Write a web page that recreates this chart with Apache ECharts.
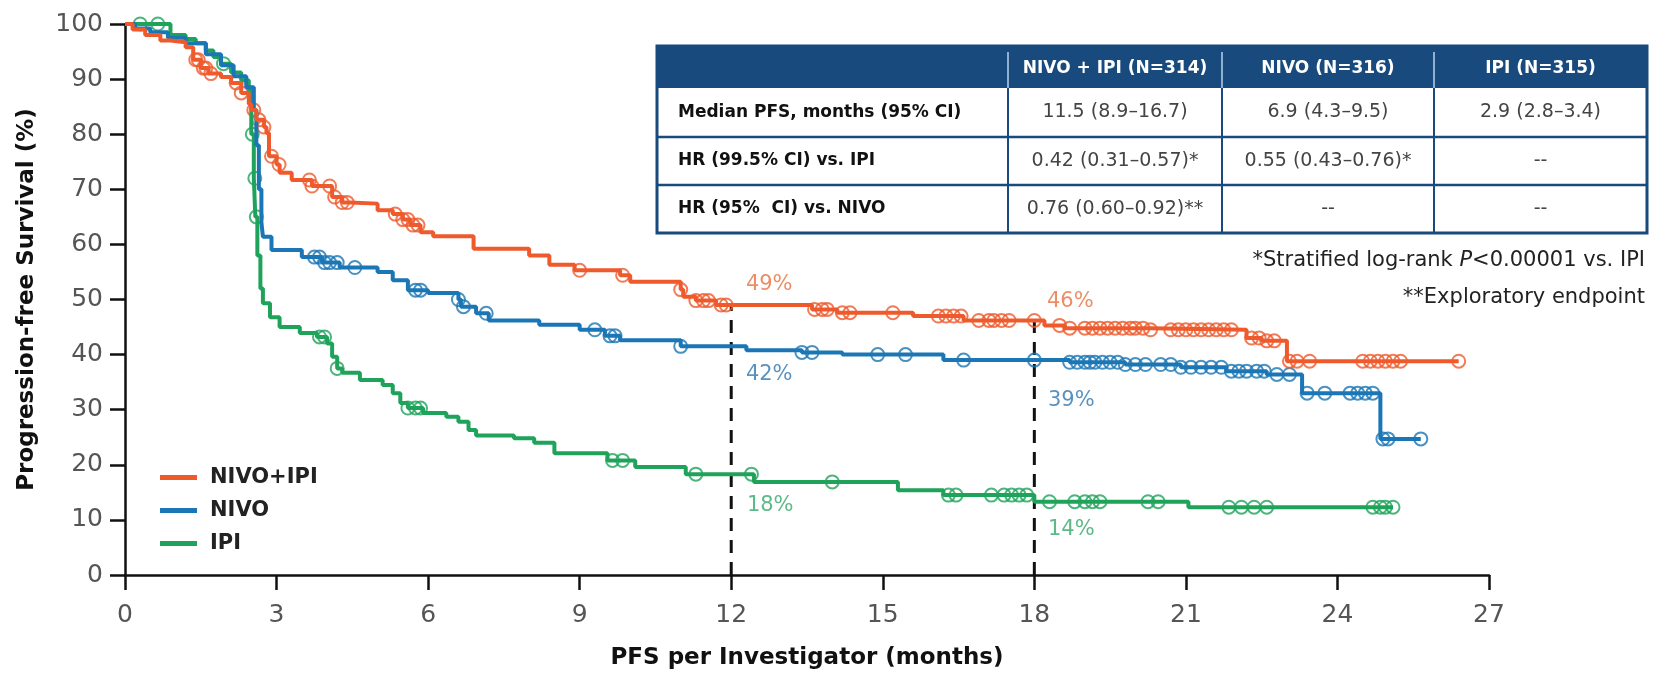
<!DOCTYPE html>
<html>
<head>
<meta charset="utf-8">
<script src="https://cdn.jsdelivr.net/npm/echarts@6/dist/echarts.min.js"></script>
<style>
  html, body { margin: 0; padding: 0; background: #fff; }
  #chart { width: 1653px; height: 673px; }
</style>
</head>
<body>
<div id="chart"></div>
<script>
// Kaplan-Meier step points (months, % progression-free)
const comboT = [0, 0.15, 0.4, 0.7, 0.9, 1.2, 1.35, 1.5, 1.65, 1.9, 2.1, 2.3, 2.45, 2.5, 2.6, 2.75, 2.8, 2.85, 3.0, 3.06, 3.3, 3.7, 4.1, 4.3, 4.45, 5.0, 5.3, 5.5, 5.65, 5.85, 6.1, 6.9, 8.0, 8.4, 8.9, 9.8, 10.0, 11.0, 11.05, 11.3, 11.7, 13.6, 14.1, 15.6, 16.6, 18.2, 18.6, 20.3, 22.2, 22.5, 23.0];
const comboS = [100, 99, 98, 97, 96.7, 95.8, 93.5, 92, 91, 90.4, 89.3, 87.5, 85.5, 84.4, 82.6, 81.3, 80.2, 76, 74.5, 73, 71.7, 70.6, 68.6, 67.6, 67.4, 66.2, 65.5, 64.5, 63.5, 62.2, 61.5, 59.2, 58, 56.3, 55.3, 54.4, 53.2, 51.8, 50.5, 49.8, 49.0, 48.2, 47.6, 47.0, 46.2, 45.3, 44.8, 44.5, 43.0, 42.5, 38.8];
const comboCens = [1.4, 1.45, 1.55, 1.6, 1.7, 2.2, 2.3, 2.55, 2.65, 2.75, 2.9, 3.05, 3.65, 3.7, 4.05, 4.15, 4.3, 4.4, 5.35, 5.5, 5.6, 5.7, 5.8, 9.0, 9.85, 11.0, 11.3, 11.45, 11.55, 11.8, 11.9, 13.65, 13.8, 13.9, 14.2, 14.35, 15.2, 16.1, 16.25, 16.4, 16.55, 16.9, 17.1, 17.2, 17.35, 17.5, 18.0, 18.5, 18.7, 19.0, 19.15, 19.3, 19.45, 19.6, 19.75, 19.9, 20.0, 20.15, 20.3, 20.7, 20.85, 21.0, 21.15, 21.3, 21.45, 21.6, 21.75, 21.9, 22.3, 22.45, 22.6, 22.75, 23.05, 23.2, 23.45, 24.5, 24.65, 24.8, 24.95, 25.1, 25.25, 26.4];

const nivoT = [0, 0.2, 0.5, 0.85, 1.2, 1.6, 1.9, 2.15, 2.4, 2.55, 2.6, 2.65, 2.7, 2.73, 2.9, 3.5, 3.9, 4.25, 5.0, 5.3, 5.6, 6.0, 6.6, 6.65, 6.95, 7.2, 8.2, 9.0, 9.5, 9.8, 11.0, 12.3, 13.4, 14.2, 16.2, 18.7, 19.8, 20.9, 21.8, 22.6, 23.3, 24.85];
const nivoS = [100, 99.2, 98.5, 97.5, 96.5, 94.5, 92.5, 90.5, 88.5, 84.4, 78, 70, 64, 61.4, 59, 57.7, 56.7, 55.8, 55, 53.5, 51.7, 51.2, 50, 48.7, 47.5, 46.2, 45.4, 44.5, 43.4, 42.6, 41.5, 40.8, 40.4, 40.0, 39.0, 38.6, 38.2, 37.7, 37.0, 36.4, 33.0, 24.7];
const nivoCens = [3.75, 3.85, 3.95, 4.05, 4.2, 4.55, 5.75, 5.85, 6.6, 6.7, 7.15, 9.3, 9.6, 9.7, 11.0, 13.4, 13.6, 14.9, 15.45, 16.6, 18.0, 18.7, 18.85, 19.0, 19.1, 19.2, 19.35, 19.5, 19.65, 19.8, 20.0, 20.2, 20.5, 20.7, 20.9, 21.1, 21.3, 21.5, 21.7, 21.9, 22.05, 22.2, 22.4, 22.55, 22.8, 23.05, 23.4, 23.75, 24.25, 24.4, 24.55, 24.7, 24.9, 25.0, 25.65];

const ipiT = [0, 0.9, 1.2, 1.4, 1.6, 1.75, 1.9, 2.1, 2.3, 2.45, 2.5, 2.55, 2.58, 2.62, 2.68, 2.73, 2.87, 3.06, 3.46, 3.8, 4.0, 4.1, 4.2, 4.3, 4.65, 5.1, 5.3, 5.45, 5.6, 5.9, 6.36, 6.6, 6.8, 6.95, 7.7, 8.1, 8.5, 9.55, 10.1, 11.1, 12.45, 15.3, 16.2, 18.0, 21.05];
const ipiS = [100, 98, 97.3, 96.5, 95.2, 94, 92.8, 91.2, 89.8, 88, 80, 72, 65, 58, 52, 49.3, 46.8, 45, 43.9, 43.2, 42, 39.6, 37.5, 36.7, 35.4, 34.5, 33, 31.2, 30.3, 29.4, 28.7, 27.8, 26.3, 25.3, 24.8, 24, 22.1, 20.8, 19.6, 18.3, 16.9, 15.4, 14.5, 13.3, 12.3];
const ipiCens = [0.3, 0.65, 1.95, 2.52, 2.57, 2.6, 3.85, 3.95, 4.2, 5.6, 5.75, 5.85, 9.65, 9.85, 11.3, 12.4, 14.0, 16.3, 16.45, 17.15, 17.4, 17.55, 17.7, 17.85, 18.3, 18.8, 19.0, 19.15, 19.3, 20.25, 20.45, 21.85, 22.1, 22.35, 22.6, 24.7, 24.85, 24.95, 25.1];

// landmark rates at 12 and 18 months
const landmarks = [12, 18];
const comboAt = [49, 46];
const nivoAt = [42, 39];
const ipiAt = [18, 14];

const tableHead = ['', 'NIVO + IPI (N=314)', 'NIVO (N=316)', 'IPI (N=315)'];
const tableRows = [
  ['Median PFS, months (95% CI)', '11.5 (8.9\u201316.7)', '6.9 (4.3\u20139.5)', '2.9 (2.8\u20133.4)'],
  ['HR (99.5% CI) vs. IPI', '0.42 (0.31\u20130.57)*', '0.55 (0.43\u20130.76)*', '--'],
  ['HR (95%  CI) vs. NIVO', '0.76 (0.60\u20130.92)**', '--', '--']
];
const footnote1 = ['*Stratified log-rank ', 'P', '<0.00001 vs. IPI'];
const footnote2 = '**Exploratory endpoint';

var ORANGE = '#EE5A2C', BLUE = '#1A76B4', GREEN = '#1FA35B', NAVY = '#184A7D';
var FONT = 'DejaVu Sans';

function stepData(t, s, tEnd) {
  var d = t.map(function (x, i) { return [x, s[i]]; });
  d.push([tEnd, s[s.length - 1]]);
  return d;
}
function valueAt(t, s, x) {
  var v = s[0];
  for (var i = 0; i < t.length; i++) if (t[i] <= x) v = s[i];
  return v;
}
function censData(t, s, cens) {
  return cens.map(function (x) { return [x, valueAt(t, s, x)]; });
}

function curve(name, color, t, s, cens) {
  return {
    name: name, type: 'line', step: 'end', symbol: 'none',
    data: stepData(t, s, cens[cens.length - 1]),
    lineStyle: { color: color, width: 4 }, itemStyle: { color: color }
  };
}
function marks(name, color, t, s, cens) {
  return {
    name: name + ' censored', type: 'scatter', symbol: 'circle', symbolSize: 13,
    data: censData(t, s, cens),
    itemStyle: { color: 'rgba(0,0,0,0)', borderColor: color, borderWidth: 2 }
  };
}
function rates(name, color, vals, offs) {
  return {
    name: name + ' rate', type: 'scatter', symbolSize: 0, silent: true,
    data: landmarks.map(function (x, i) {
      return { value: [x, vals[i]], label: { offset: offs[i] } };
    }),
    label: {
      show: true, position: 'inside', color: color, fontFamily: FONT, fontSize: 21,
      formatter: function (p) { return p.value[1] + '%'; }
    }
  };
}

var dashSeries = landmarks.map(function (x, i) {
  return {
    name: 'landmark ' + x, type: 'line', symbol: 'none', silent: true, z: 1,
    data: [[x, 0], [x, comboAt[i]]],
    lineStyle: { color: '#111', width: 3, type: [13, 9] }
  };
});

// table drawn as graphic elements
var colX = [657, 1008, 1222, 1434, 1647];
var rowY = [46, 88, 137, 185, 233];
var g = [];
g.push({ type: 'rect', shape: { x: colX[0], y: rowY[0], width: colX[4] - colX[0], height: rowY[4] - rowY[0] },
  style: { fill: '#fff', stroke: NAVY, lineWidth: 3 } });
g.push({ type: 'rect', shape: { x: colX[0], y: rowY[0], width: colX[4] - colX[0], height: rowY[1] - rowY[0] },
  style: { fill: NAVY } });
for (var r = 2; r < 4; r++) {
  g.push({ type: 'line', shape: { x1: colX[0], y1: rowY[r], x2: colX[4], y2: rowY[r] }, style: { stroke: NAVY, lineWidth: 2.5 } });
}
for (var c = 1; c < 4; c++) {
  g.push({ type: 'line', shape: { x1: colX[c], y1: rowY[1], x2: colX[c], y2: rowY[4] }, style: { stroke: NAVY, lineWidth: 2 } });
  g.push({ type: 'line', shape: { x1: colX[c], y1: rowY[0] + 6, x2: colX[c], y2: rowY[1] }, style: { stroke: '#8fb0d0', lineWidth: 2 } });
}
for (var c = 1; c < 4; c++) {
  g.push({ type: 'text', x: (colX[c] + colX[c + 1]) / 2, y: (rowY[0] + rowY[1]) / 2 + 2,
    style: { text: tableHead[c], fill: '#fff', font: 'bold 17px ' + FONT, align: 'center', verticalAlign: 'middle' } });
}
tableRows.forEach(function (row, r) {
  var cy = (rowY[r + 1] + rowY[r + 2]) / 2;
  g.push({ type: 'text', x: colX[0] + 21, y: cy,
    style: { text: row[0], fill: '#111', font: 'bold 17px ' + FONT, align: 'left', verticalAlign: 'middle' } });
  for (var c = 1; c < 4; c++) {
    g.push({ type: 'text', x: (colX[c] + colX[c + 1]) / 2, y: cy,
      style: { text: row[c], fill: '#444', font: '19px ' + FONT, align: 'center', verticalAlign: 'middle' } });
  }
});

// footnotes, right aligned; the italic P is laid out with measured widths
var footFont = '21px "' + FONT + '"', footItal = 'italic 21px "' + FONT + '"';
var ctx = document.createElement('canvas').getContext('2d');
function textW(s, f) { ctx.font = f; return ctx.measureText(s).width; }
var footRight = 1645;
var w3 = textW(footnote1[2], footFont), wP = textW(footnote1[1], footItal);
g.push({ type: 'text', x: footRight, y: 261, style: { text: footnote1[2], fill: '#222', font: footFont, align: 'right', verticalAlign: 'middle' } });
g.push({ type: 'text', x: footRight - w3, y: 261, style: { text: footnote1[1], fill: '#222', font: footItal, align: 'right', verticalAlign: 'middle' } });
g.push({ type: 'text', x: footRight - w3 - wP, y: 261, style: { text: footnote1[0], fill: '#222', font: footFont, align: 'right', verticalAlign: 'middle' } });
g.push({ type: 'text', x: footRight, y: 298, style: { text: footnote2, fill: '#222', font: footFont, align: 'right', verticalAlign: 'middle' } });

var axisCommon = {
  axisLine: { show: true, onZero: false, lineStyle: { color: '#111', width: 2.5 } },
  axisTick: { show: true, length: 15, lineStyle: { color: '#111', width: 2.5 } },
  axisLabel: { fontFamily: FONT, fontSize: 25, color: '#555' },
  splitLine: { show: false },
  nameLocation: 'middle',
  nameTextStyle: { fontFamily: FONT, fontSize: 23, fontWeight: 'bold', color: '#111' }
};

var option = {
  animation: false,
  backgroundColor: '#fff',
  grid: { left: 125, right: 164, top: 24, bottom: 98, containLabel: false, outerBoundsMode: 'none' },
  xAxis: Object.assign({}, axisCommon, {
    type: 'value', min: 0, max: 27, interval: 3,
    axisLabel: Object.assign({}, axisCommon.axisLabel, { margin: 28 }),
    name: 'PFS per Investigator (months)', nameGap: 72
  }),
  yAxis: Object.assign({}, axisCommon, {
    type: 'value', min: 0, max: 100, interval: 10,
    axisLabel: Object.assign({}, axisCommon.axisLabel, { margin: 22 }),
    name: 'Progression-free Survival (%)', nameGap: 86, nameRotate: 90
  }),
  legend: {
    data: ['NIVO+IPI', 'NIVO', 'IPI'],
    orient: 'vertical', left: 155, top: 462, itemGap: 12,
    icon: 'rect', itemWidth: 37, itemHeight: 5, selectedMode: false,
    textStyle: { fontFamily: FONT, fontSize: 21, fontWeight: 'bold', color: '#222', padding: [0, 0, 0, 8] }
  },
  graphic: g,
  series: dashSeries.concat([
    curve('IPI', GREEN, ipiT, ipiS, ipiCens),
    curve('NIVO', BLUE, nivoT, nivoS, nivoCens),
    curve('NIVO+IPI', ORANGE, comboT, comboS, comboCens),
    marks('IPI', GREEN, ipiT, ipiS, ipiCens),
    marks('NIVO', BLUE, nivoT, nivoS, nivoCens),
    marks('NIVO+IPI', ORANGE, comboT, comboS, comboCens),
    rates('NIVO+IPI', '#E8703F', comboAt, [[38, -20], [36, -20]]),
    rates('NIVO', '#2F77B0', nivoAt, [[38, 31], [37, 40]]),
    rates('IPI', '#35A86A', ipiAt, [[39, 30], [37, 32]])
  ])
};

var chart = echarts.init(document.getElementById('chart'));
chart.setOption(option);
</script>
</body>
</html>
